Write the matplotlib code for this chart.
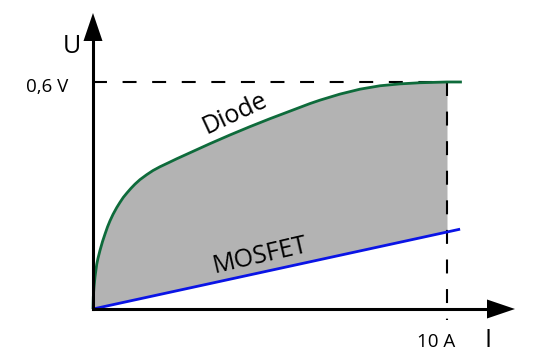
import numpy as np
import matplotlib
matplotlib.use("Agg")
import matplotlib.pyplot as plt
from matplotlib.patches import Polygon

plt.rcParams['font.family'] = ['Open Sans', 'DejaVu Sans']

# Data (I in A, U in V)
diode_i = [0.0, 0.0085, 0.028, 0.057, 0.105, 0.141, 0.198, 0.268, 0.339, 0.410, 0.480,
           0.565, 0.670, 0.763, 0.856, 0.961, 1.073, 1.186, 1.328, 1.517, 1.695, 1.893,
           2.119, 2.364, 2.740, 3.305, 3.870, 4.435, 5.000, 5.565, 6.130, 6.412,
           6.977, 7.542, 8.107, 8.672, 9.237, 10.0, 10.42]
diode_u = [0.0, 0.032, 0.058, 0.085, 0.118, 0.134, 0.155, 0.178, 0.198, 0.217, 0.233,
           0.250, 0.268, 0.282, 0.295, 0.307, 0.319, 0.330, 0.342, 0.355, 0.366, 0.376,
           0.386, 0.397, 0.413, 0.437, 0.460, 0.482, 0.503, 0.523, 0.543, 0.552,
           0.568, 0.581, 0.590, 0.595, 0.598, 0.600, 0.600]
mosfet_i = [0.0, 10.37]
mosfet_u = [0.0, 0.211]
i_nominal = 10.0
u_diode = 0.6
u_tick_label = "0,6 V"
i_tick_label = "10 A"

fig = plt.figure(figsize=(5.4, 3.6), dpi=100)
ax = fig.add_axes([0, 0, 1, 1])
ax.set_xlim(-2.627, 12.627)
ax.set_ylim(-0.1348, 0.8167)
ax.axis('off')

green = '#0e6b3b'
blue = '#0a14e6'

# gray area between curves up to nominal current
di = np.array(diode_i)
du = np.array(diode_u)
mask = di <= i_nominal
fx = di[mask]
fy1 = du[mask]
fy0 = np.interp(fx, mosfet_i, mosfet_u)
ax.fill_between(fx, fy0, fy1, color='#b3b3b3', lw=0, zorder=1)

# dashed guides
ax.plot([0, i_nominal], [u_diode, u_diode], color='black', lw=1.5,
        ls=(0, (6.7, 7.5)), zorder=2)
ax.plot([i_nominal, i_nominal], [u_diode, -0.029], color='black', lw=1.5,
        ls=(0, (6.7, 7.5)), zorder=2)

# curves
ax.plot(diode_i, diode_u, color=green, lw=2.0, solid_capstyle='butt',
        solid_joinstyle='round', zorder=3)
ax.plot(mosfet_i, mosfet_u, color=blue, lw=2.0, solid_capstyle='butt', zorder=3)

# axes with arrowheads
xpx = 1 / 35.4       # data per pixel along x
ypx = 1 / 378.33     # data per pixel along y
x_tip = (515 - 93) * xpx
y_tip = (309 - 13) * ypx
head_len_x = 28 * xpx
head_half_y = 9.5 * ypx
head_len_y = 28 * ypx
head_half_x = 9.5 * xpx
ax.plot([0, x_tip - head_len_x], [0, 0], color='black', lw=2.2, zorder=4,
        solid_capstyle='projecting')
ax.plot([0, 0], [0, y_tip - head_len_y], color='black', lw=2.2, zorder=4,
        solid_capstyle='projecting')
ax.add_patch(Polygon([[x_tip, 0], [x_tip - head_len_x, head_half_y],
                      [x_tip - head_len_x, -head_half_y]], closed=True,
                     color='black', lw=0, zorder=4))
ax.add_patch(Polygon([[0, y_tip], [-head_half_x, y_tip - head_len_y],
                      [head_half_x, y_tip - head_len_y]], closed=True,
                     color='black', lw=0, zorder=4))

# texts
ax.text(-21 * xpx, (309 - 47) * ypx, "U", fontsize=18, ha='center', va='center')
ax.text(-25 * xpx, u_diode - 5 * ypx, u_tick_label, fontsize=13.5, ha='right', va='center')
ax.text(i_nominal - 11 * xpx, -33 * ypx, i_tick_label, fontsize=13.5, ha='center', va='center')
ax.text(395 * xpx, -31 * ypx, "I", fontsize=18, ha='center', va='center')
ax.text((235 - 93) * xpx, (309 - 114) * ypx, "Diode", fontsize=18, rotation=25,
        ha='center', va='center', rotation_mode='anchor')
ax.text((260 - 93) * xpx, (309 - 256) * ypx, "MOSFET", fontsize=18, rotation=13,
        ha='center', va='center', rotation_mode='anchor')

fig.savefig("out.png", dpi=100)
